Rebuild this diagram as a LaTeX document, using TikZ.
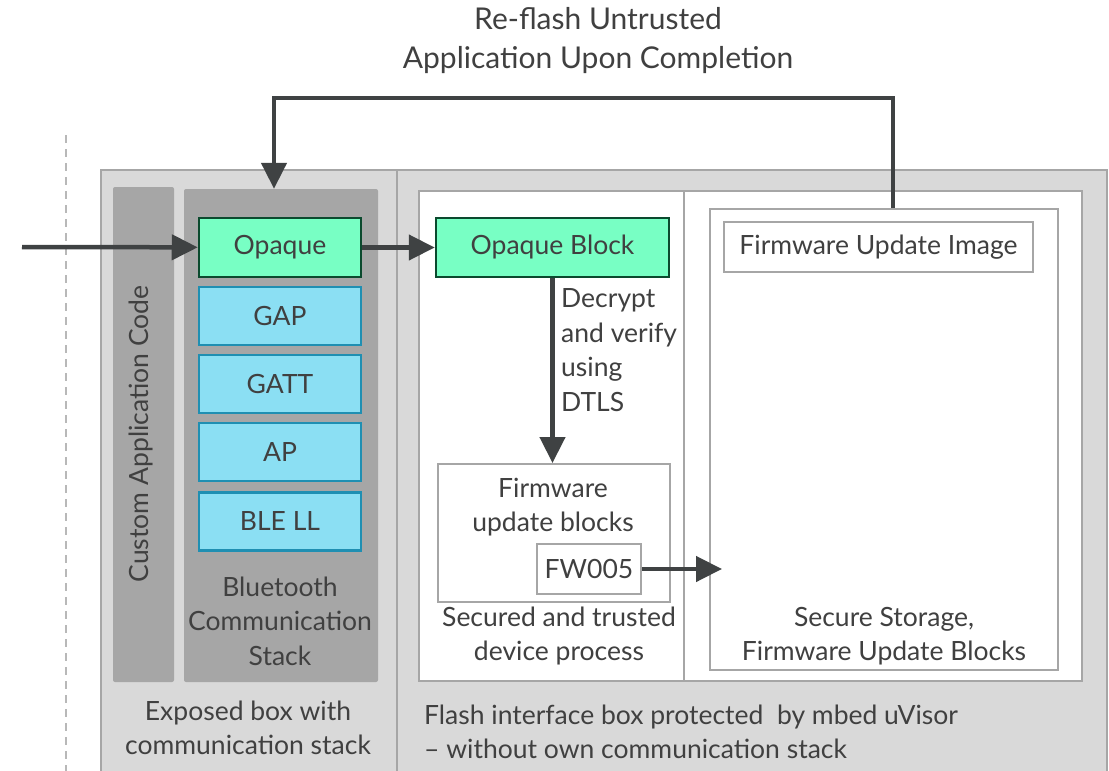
\documentclass[tikz,border=0pt]{standalone}
\usepackage{fontspec}
\setmainfont{Lato}
\usetikzlibrary{arrows.meta}
\definecolor{panelgray}{HTML}{D9D9D9}
\definecolor{edgegray}{HTML}{A6A6A6}
\definecolor{colgray}{HTML}{A6A6A6}
\definecolor{arrowgray}{HTML}{3F4243}
\definecolor{textgray}{HTML}{404040}
\definecolor{opaquegreen}{HTML}{78FFC4}
\definecolor{opaqueedge}{HTML}{0B4A2E}
\definecolor{layerblue}{HTML}{8BDFF3}
\definecolor{layeredge}{HTML}{1F8FB2}
\tikzset{
  panel/.style={draw=edgegray, fill=panelgray, line width=2pt, inner sep=0pt},
  column/.style={fill=colgray, rounded corners=2pt, inner sep=0pt},
  greenbox/.style={draw=opaqueedge, fill=opaquegreen, line width=2.5pt, inner sep=0pt},
  bluebox/.style={draw=layeredge, fill=layerblue, line width=2.5pt, inner sep=0pt},
  whitebox/.style={draw=edgegray, fill=white, line width=2pt, inner sep=0pt},
  label/.style={align=center, inner sep=0pt},
  arr/.style={draw=arrowgray, line width=4.5pt, -{Triangle[length=26pt,width=25pt]}},
}
\begin{document}
\begin{tikzpicture}[x=1pt, y=-1pt, text=textgray, font=\fontsize{26.5}{34.5}\selectfont]
    \clip (0,0) rectangle (1109,771);

    % Title
    \node[label, font=\fontsize{30}{39}\selectfont] (title) at (598,41) {Re-flash Untrusted\\Application Upon Completion};

    % Boundary
    \draw[edgegray!80, line width=1.6pt, dash pattern=on 8pt off 6pt] (66,135) -- (66,771);

    % Panels
    \node[panel, minimum width=296pt, minimum height=630pt] (exposed) at (249,485) {};
    \node[panel, minimum width=710pt, minimum height=630pt] (flash) at (752,485) {};

    % Exposed box with communication stack
    \node[column, minimum width=61pt, minimum height=495pt] (appcol) at (143.5,434.5) {};
    \node[column, minimum width=194pt, minimum height=493pt] (btcol) at (281,435.5) {};
    \node[label, rotate=90] (applabel) at (141,434) {Custom Application Code};

    \node[greenbox, minimum width=162pt, minimum height=59pt] (opaque) at (280,247.5) {Opaque};
    \node[bluebox, minimum width=162pt, minimum height=58pt] (gap) at (280,316) {GAP};
    \node[bluebox, minimum width=162pt, minimum height=58pt] (gatt) at (280,384) {GATT};
    \node[bluebox, minimum width=162pt, minimum height=58pt] (ap) at (280,452) {AP};
    \node[bluebox, minimum width=162pt, minimum height=58pt] (blell) at (280,521.5) {BLE LL};
    \node[label] (btlabel) at (280,621) {Bluetooth\\Communication\\Stack};
    \node[label] (exposedlabel) at (248,728) {Exposed box with\\communication stack};

    % Flash interface box
    \node[whitebox, minimum width=663pt, minimum height=490pt] (inner) at (750.5,436) {};
    \draw[edgegray, line width=2pt] (684,191) -- (684,681);

    \node[greenbox, minimum width=233pt, minimum height=59pt] (opblock) at (552.5,247.5) {Opaque Block};
    \node[whitebox, minimum width=232pt, minimum height=138pt] (fwblocks) at (554,533) {};
    \node[label] (fwlabel) at (553,507) {Firmware\\update blocks};
    \node[whitebox, minimum width=104pt, minimum height=50pt] (fw005) at (589,569) {FW005};
    \node[label] (securedlabel) at (559,636) {Secured and trusted\\device process};

    \node[whitebox, minimum width=348pt, minimum height=461pt] (storage) at (884,439.5) {};
    \node[whitebox, minimum width=309pt, minimum height=50pt] (fwimage) at (878.5,247) {Firmware Update Image};
    \node[label] (storagelabel) at (884,636) {Secure Storage,\\Firmware Update Blocks};

    \node[label, align=left, anchor=west] (flashlabel) at (424,732) {Flash interface box protected\ \ by mbed uVisor\\-- without own communication stack};

    % Arrows
    \coordinate (src) at (22,247);
    \coordinate (fwtip) at (722,569);
    \coordinate (loop) at (274,98);
    \draw[arr] (src) -- (opaque);
    \draw[arr] (opaque) -- (opblock);
    \draw[arr] (opblock.south) -- (opblock.south |- fwblocks.north);
    \node[label, align=left, anchor=west] (decrypt) at (561,350) {Decrypt\\and verify\\using\\DTLS};
    \draw[arr] (fw005) -- (fwtip);
    \draw[arr] ([xshift=9pt]storage.north) |- (loop) -- (loop |- btcol.north);
\end{tikzpicture}
\end{document}
